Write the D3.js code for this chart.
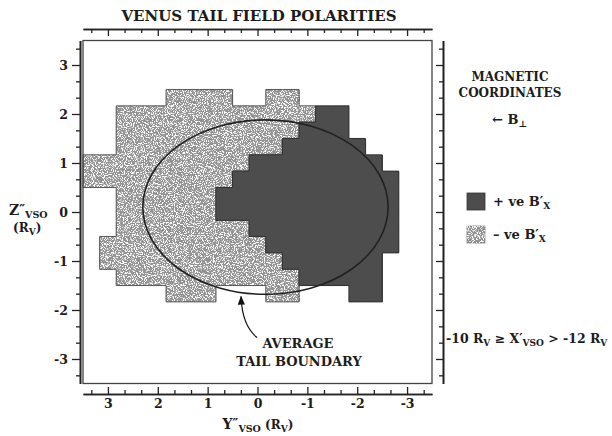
<!DOCTYPE html>
<html><head><meta charset="utf-8">
<script src="https://cdn.jsdelivr.net/npm/d3@7"></script>
<style>
body{margin:0;background:#fff}
svg text{font-family:"DejaVu Serif",serif;font-weight:bold;fill:#1c1c1c}
</style></head><body>
<svg id="chart" width="612" height="436"></svg>
<script>
// Size of one polarity bin (R_V)
const binSize = 1 / 3;
// Y'' bin centres, left to right (R_V)
const yBins = d3.range(10, -11, -1).map(k => k * binSize);
// Z'' bin centres, top to bottom (R_V)
const zBins = d3.range(7, -6, -1).map(k => k * binSize);
// Polarity of each bin along a Z'' row: '-' negative B'x, '+' positive B'x, '.' no data
const polarityRows = [
  ".....----..--........",
  "..------------++.....",
  "..-----------+++.....",
  "..----------+++++....",
  "----------++++++++...",
  "---------++++++++++..",
  "..------+++++++++++..",
  "..------+++++++++++..",
  "..--------+++++++++..",
  ".----------++++++++..",
  ".-----------++++++...",
  "..-----------+++++...",
  ".....---...--...++..."
];
// Axis ticks (R_V)
const majorTicks = [3, 2, 1, 0, -1, -2, -3];
const minorTicks = d3.range(-10, 11).filter(k => k % 3 !== 0).map(k => k / 3);
// Average tail boundary ellipse: centre and semi-axes (R_V)
const boundaryCentre = [-0.16, 0.1];
const boundaryRadii = [2.46, 1.78];

const svg = d3.select("#chart");
const x = d3.scaleLinear().domain([3.5, -3.5]).range([83, 432]);
const y = d3.scaleLinear().domain([3.5, -3.5]).range([40.5, 383.5]);

// stipple texture for the negative-polarity bins
const defs = svg.append("defs");
const f = defs.append("filter").attr("id", "stipple")
  .attr("filterUnits", "userSpaceOnUse").attr("x", 0).attr("y", 0)
  .attr("width", 612).attr("height", 436);
f.append("feTurbulence").attr("type", "fractalNoise").attr("baseFrequency", 0.9)
  .attr("numOctaves", 2).attr("seed", 7).attr("result", "noise");
f.append("feColorMatrix").attr("in", "noise").attr("type", "matrix")
  .attr("values", "0 0 0 0 1  0 0 0 0 1  0 0 0 0 1  9 0 0 0 -4.55").attr("result", "specks");
f.append("feComposite").attr("in", "specks").attr("in2", "SourceGraphic")
  .attr("operator", "in").attr("result", "clipped");
const fm = f.append("feMerge");
fm.append("feMergeNode").attr("in", "SourceGraphic");
fm.append("feMergeNode").attr("in", "clipped");

defs.append("marker").attr("id", "head").attr("viewBox", "0 0 10 10")
  .attr("refX", 9).attr("refY", 5).attr("markerWidth", 9).attr("markerHeight", 9)
  .attr("orient", "auto").attr("markerUnits", "userSpaceOnUse")
  .append("path").attr("d", "M0,1 L10,5 L0,9 Z").attr("fill", "#111");

// flatten bins
const cells = [];
polarityRows.forEach((row, r) => {
  row.split("").forEach((ch, c) => {
    if (ch !== ".") cells.push({ r, c, p: ch, yv: yBins[c], zv: zBins[r] });
  });
});
const at = (r, c) => (r < 0 || r >= polarityRows.length || c < 0 || c >= yBins.length) ? "." : polarityRows[r][c];

const fillOf = { "-": "#939393", "+": "#4d4d4d" };
const gNeg = svg.append("g").attr("filter", "url(#stipple)");
const gPos = svg.append("g");
[["-", gNeg], ["+", gPos]].forEach(([p, g]) => {
  g.selectAll("rect").data(cells.filter(d => d.p === p)).join("rect")
    .attr("x", d => x(d.yv + binSize / 2))
    .attr("y", d => y(d.zv + binSize / 2))
    .attr("width", d => x(d.yv - binSize / 2) - x(d.yv + binSize / 2) + 0.5)
    .attr("height", d => y(d.zv - binSize / 2) - y(d.zv + binSize / 2) + 0.5)
    .attr("fill", fillOf[p]).attr("shape-rendering", "crispEdges");
});

// region outlines: bin edges whose neighbour has another polarity
const edges = [];
cells.forEach(d => {
  const x0 = x(d.yv + binSize / 2), x1 = x(d.yv - binSize / 2);
  const y0 = y(d.zv + binSize / 2), y1 = y(d.zv - binSize / 2);
  if (at(d.r - 1, d.c) !== d.p) edges.push({ p: d.p, a: [x0, y0], b: [x1, y0] });
  if (at(d.r + 1, d.c) !== d.p) edges.push({ p: d.p, a: [x0, y1], b: [x1, y1] });
  if (at(d.r, d.c - 1) !== d.p) edges.push({ p: d.p, a: [x0, y0], b: [x0, y1] });
  if (at(d.r, d.c + 1) !== d.p) edges.push({ p: d.p, a: [x1, y0], b: [x1, y1] });
});
edges.sort((a, b) => (a.p === "+") - (b.p === "+"));
svg.append("g").selectAll("line").data(edges).join("line")
  .attr("x1", d => d.a[0]).attr("y1", d => d.a[1])
  .attr("x2", d => d.b[0]).attr("y2", d => d.b[1])
  .attr("stroke", d => d.p === "+" ? "#333" : "#5c5c5c").attr("stroke-width", 1.1);

// average tail boundary
svg.append("ellipse")
  .attr("cx", x(boundaryCentre[0])).attr("cy", y(boundaryCentre[1]))
  .attr("rx", x(0) - x(boundaryRadii[0])).attr("ry", y(0) - y(boundaryRadii[1]))
  .attr("fill", "none").attr("stroke", "#222").attr("stroke-width", 1.6);

// frame
svg.append("rect").attr("x", 83).attr("y", 40.5).attr("width", 349).attr("height", 343)
  .attr("fill", "none").attr("stroke", "#444").attr("stroke-width", 1.3);

// axes
const axisStyle = g => {
  g.select(".domain").attr("stroke", "#222").attr("stroke-width", 1.6);
  g.selectAll(".tick line").attr("stroke", "#222").attr("stroke-width", 1.3);
  g.selectAll("text").attr("font-size", 12.5).attr("fill", "#1c1c1c")
    .attr("font-family", "DejaVu Serif").attr("font-weight", "bold");
};
const fmt = d => d === 0 ? "0" : (d < 0 ? "-" + Math.abs(d) : String(d));

// top
svg.append("g").attr("transform", "translate(0,29)")
  .call(d3.axisBottom(x).tickValues(majorTicks).tickSize(7).tickSizeOuter(0).tickFormat("")).call(axisStyle);
svg.append("g").attr("transform", "translate(0,29)")
  .call(d3.axisBottom(x).tickValues(minorTicks).tickSize(4).tickSizeOuter(0).tickFormat("")).call(axisStyle);
// bottom
svg.append("g").attr("transform", "translate(0,394)")
  .call(d3.axisTop(x).tickValues(majorTicks).tickSize(7).tickSizeOuter(0).tickFormat("")).call(axisStyle);
svg.append("g").attr("transform", "translate(0,394)")
  .call(d3.axisTop(x).tickValues(minorTicks).tickSize(4).tickSizeOuter(0).tickFormat("")).call(axisStyle);
svg.append("g").attr("transform", "translate(0,394)")
  .call(d3.axisBottom(x).tickValues(majorTicks).tickSize(0).tickPadding(5).tickFormat(fmt)).call(axisStyle)
  .call(g => g.select(".domain").remove());
// left
svg.append("g").attr("transform", "translate(80,0)")
  .call(d3.axisLeft(y).tickValues(majorTicks).tickSize(8).tickPadding(4).tickSizeOuter(0).tickFormat(fmt)).call(axisStyle);
svg.append("g").attr("transform", "translate(80,0)")
  .call(d3.axisLeft(y).tickValues(minorTicks).tickSize(4).tickSizeOuter(0).tickFormat("")).call(axisStyle);
// right
svg.append("g").attr("transform", "translate(443,0)")
  .call(d3.axisLeft(y).tickValues(majorTicks).tickSize(7).tickSizeOuter(0).tickFormat("")).call(axisStyle);
svg.append("g").attr("transform", "translate(443,0)")
  .call(d3.axisLeft(y).tickValues(minorTicks).tickSize(4).tickSizeOuter(0).tickFormat("")).call(axisStyle);

// title
svg.append("text").attr("x", 259).attr("y", 21).attr("text-anchor", "middle")
  .attr("font-size", 15).text("VENUS TAIL FIELD POLARITIES");

// axis titles
const zt = svg.append("text").attr("x", 9).attr("y", 215).attr("font-size", 14);
zt.append("tspan").text("Z");
zt.append("tspan").attr("font-size", 13).attr("dy", -1).text("″");
zt.append("tspan").attr("font-size", 9.5).attr("dy", 4).text("VSO");
const zr = svg.append("text").attr("x", 13).attr("y", 232).attr("font-size", 12);
zr.append("tspan").text("(R");
zr.append("tspan").attr("font-size", 9).attr("dy", 3).text("V");
zr.append("tspan").attr("dy", -3).text(")");

const yt = svg.append("text").attr("x", 258).attr("y", 429).attr("text-anchor", "middle").attr("font-size", 14);
yt.append("tspan").text("Y");
yt.append("tspan").attr("font-size", 13).attr("dy", -1).text("″");
yt.append("tspan").attr("font-size", 9.5).attr("dy", 4).text("VSO");
yt.append("tspan").attr("font-size", 12).attr("dy", -3).text(" (R");
yt.append("tspan").attr("font-size", 9).attr("dy", 3).text("V");
yt.append("tspan").attr("font-size", 12).attr("dy", -3).text(")");

// coordinate note
svg.append("text").attr("x", 510).attr("y", 81).attr("text-anchor", "middle").attr("font-size", 12).text("MAGNETIC");
svg.append("text").attr("x", 510).attr("y", 97).attr("text-anchor", "middle").attr("font-size", 12).text("COORDINATES");
const bp = svg.append("text").attr("x", 492).attr("y", 124).attr("font-size", 13);
bp.append("tspan").text("← B");
bp.append("tspan").attr("font-size", 9).attr("dy", 3).text("⊥");

// legend
const legend = [{ p: "+", label: "+ ve B′", yy: 193 }, { p: "-", label: "– ve B′", yy: 226 }];
legend.forEach(l => {
  const g = l.p === "-" ? svg.append("g").attr("filter", "url(#stipple)") : svg.append("g");
  g.append("rect").attr("x", 467).attr("y", l.yy).attr("width", 18).attr("height", 17)
    .attr("fill", fillOf[l.p]).attr("stroke", l.p === "+" ? "#333" : "#777").attr("stroke-width", 0.8);
  const t = svg.append("text").attr("x", 493).attr("y", l.yy + 13).attr("font-size", 13);
  t.append("tspan").text(l.label);
  t.append("tspan").attr("font-size", 9).attr("dy", 3).text("X");
});

// X range of this slice
const xr = svg.append("text").attr("x", 446).attr("y", 343).attr("font-size", 12.5);
xr.append("tspan").text("-10 R");
xr.append("tspan").attr("font-size", 9).attr("dy", 3).text("V");
xr.append("tspan").attr("dy", -3).text(" ≥ X′");
xr.append("tspan").attr("font-size", 9).attr("dy", 3).text("VSO");
xr.append("tspan").attr("dy", -3).text(" > -12 R");
xr.append("tspan").attr("font-size", 9).attr("dy", 3).text("V");

// boundary annotation
const tipY = 0.33;
const tipZ = boundaryCentre[1] - boundaryRadii[1] * Math.sqrt(1 - ((tipY - boundaryCentre[0]) / boundaryRadii[0]) ** 2);
const tx = x(tipY), ty = y(tipZ) + 3;
svg.append("path")
  .attr("d", `M${tx + 16},${ty + 42} Q${tx + 1},${ty + 30} ${tx},${ty + 1}`)
  .attr("fill", "none").attr("stroke", "#111").attr("stroke-width", 1.2).attr("marker-end", "url(#head)");
svg.append("text").attr("x", 298).attr("y", 348).attr("text-anchor", "middle").attr("font-size", 13).text("AVERAGE");
svg.append("text").attr("x", 299).attr("y", 366).attr("text-anchor", "middle").attr("font-size", 13).text("TAIL BOUNDARY");
</script>
</body></html>
